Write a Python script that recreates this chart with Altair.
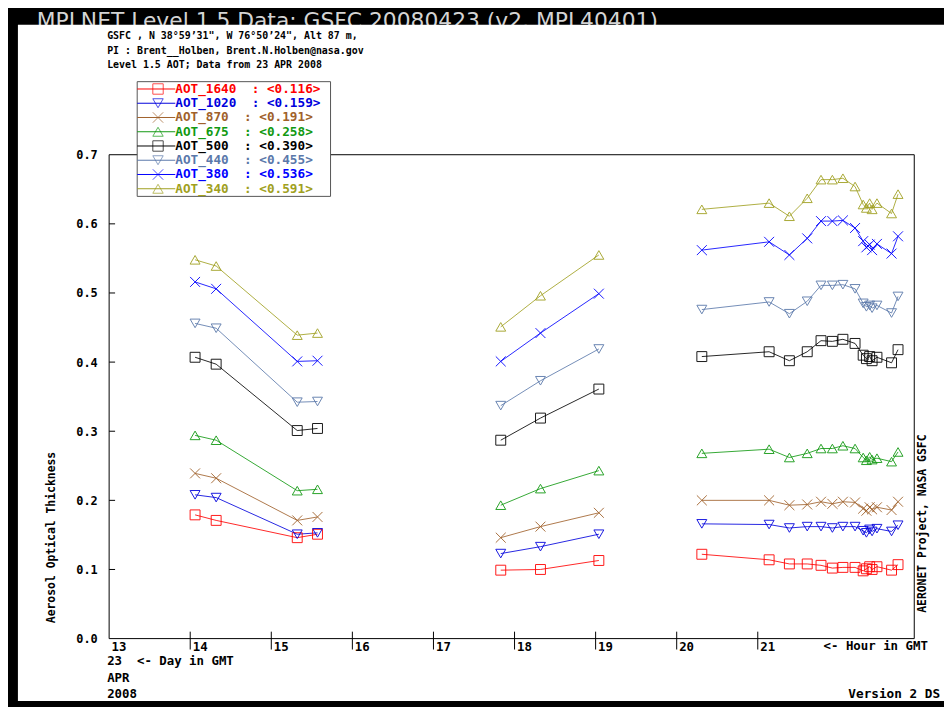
import altair as alt
import pandas as pd

MONO = "DejaVu Sans Mono"
NB = "\u00a0"

# ---------------- data ----------------
series = ["AOT_1640", "AOT_1020", "AOT_870", "AOT_675", "AOT_500", "AOT_440", "AOT_380", "AOT_340"]
colors = ["#ff0000", "#0000dd", "#a0612b", "#119911", "#000000", "#5a78aa", "#0000ff", "#a0a020"]
shapes = ["square", "triangle-down", "M-1,-1L1,1M-1,1L1,-1", "triangle-up",
          "square", "triangle-down", "M-1,-1L1,1M-1,1L1,-1", "triangle-up"]
legend_means = ["0.116", "0.159", "0.191", "0.258", "0.390", "0.455", "0.536", "0.591"]

hours_s1 = [14.06, 14.32, 15.32, 15.57]
hours_s2 = [17.83, 18.32, 19.04]
hours_s3 = [20.31, 21.14, 21.39, 21.61, 21.78, 21.92, 22.05, 22.20,
            22.30, 22.34, 22.38, 22.41, 22.47, 22.65, 22.73]

aot_1640 = [0.179, 0.171, 0.146, 0.151,
            0.099, 0.100, 0.113,
            0.122, 0.114, 0.108, 0.108, 0.106, 0.102, 0.103, 0.103,
            0.098, 0.101, 0.104, 0.100, 0.104, 0.099, 0.107]
aot_1020 = [0.208, 0.204, 0.151, 0.153,
            0.123, 0.133, 0.151,
            0.166, 0.165, 0.160, 0.162, 0.162, 0.160, 0.162, 0.162,
            0.156, 0.153, 0.158, 0.155, 0.159, 0.155, 0.164]
aot_870 = [0.239, 0.232, 0.171, 0.176,
           0.146, 0.162, 0.182,
           0.200, 0.200, 0.193, 0.194, 0.198, 0.195, 0.198, 0.197,
           0.188, 0.185, 0.190, 0.187, 0.190, 0.186, 0.198]
aot_675 = [0.294, 0.287, 0.214, 0.216,
           0.193, 0.217, 0.243,
           0.268, 0.274, 0.262, 0.268, 0.275, 0.275, 0.279, 0.275,
           0.262, 0.258, 0.263, 0.259, 0.261, 0.256, 0.270]
aot_500 = [0.407, 0.397, 0.301, 0.304,
           0.287, 0.319, 0.361,
           0.408, 0.415, 0.402, 0.415, 0.431, 0.430, 0.433, 0.427,
           0.410, 0.405, 0.408, 0.402, 0.407, 0.399, 0.418]
aot_440 = [0.456, 0.449, 0.342, 0.343,
           0.337, 0.373, 0.419,
           0.476, 0.487, 0.470, 0.488, 0.511, 0.511, 0.512, 0.506,
           0.485, 0.480, 0.482, 0.478, 0.482, 0.471, 0.495]
aot_380 = [0.516, 0.506, 0.401, 0.402,
           0.401, 0.442, 0.499,
           0.562, 0.574, 0.555, 0.579, 0.604, 0.604, 0.605, 0.594,
           0.575, 0.566, 0.570, 0.562, 0.571, 0.557, 0.582]
aot_340 = [0.548, 0.539, 0.439, 0.442,
           0.451, 0.496, 0.555,
           0.621, 0.630, 0.611, 0.637, 0.664, 0.664, 0.666, 0.654,
           0.628, 0.623, 0.630, 0.621, 0.630, 0.615, 0.643]

y_ticks = [0.0, 0.1, 0.2, 0.3, 0.4, 0.5, 0.6, 0.7]
x_ticks = [13, 14, 15, 16, 17, 18, 19, 20, 21]

header_text = "MPLNET Level 1.5 Data: GSFC 20080423 (v2, MPL40401)"
title_lines = ["GSFC , N 38\u00b059\u201931\", W 76\u00b050\u201924\", Alt 87 m,",
               "PI : Brent__Holben, Brent.N.Holben@nasa.gov",
               "Level 1.5 AOT; Data from 23 APR 2008"]
y_title = "Aerosol Optical Thickness"
x_title = "<- Hour in GMT"
day_lines = ["23" + NB + NB + "<- Day in GMT", "APR", "2008"]
right_text = "AERONET Project, NASA GSFC"
version_text = "Version 2 DS"

# ---------------- tables ----------------
values_by_series = [aot_1640, aot_1020, aot_870, aot_675, aot_500, aot_440, aot_380, aot_340]
hours = hours_s1 + hours_s2 + hours_s3
segs = [1] * len(hours_s1) + [2] * len(hours_s2) + [3] * len(hours_s3)
rows = []
for s, vals in zip(series, values_by_series):
    for h, v, g in zip(hours, vals, segs):
        rows.append({"series": s, "hour": h, "aot": v, "seg": g})
df = pd.DataFrame(rows)

leg = pd.DataFrame({
    "series": series,
    "row": list(range(len(series))),
    "label": [s + NB + NB + ":" + NB + "<" + m + ">" for s, m in zip(series, legend_means)],
})

one = pd.DataFrame({"k": [0]})

W, H = 812, 488

color_enc = alt.Color("series:N", scale=alt.Scale(domain=series, range=colors), legend=None)
shape_enc = alt.Shape("series:N", scale=alt.Scale(domain=series, range=shapes), legend=None)

x_scale = alt.Scale(domain=[13, 22.93], nice=False, zero=False)
y_scale = alt.Scale(domain=[0, 0.7], nice=False)

x_axis = alt.Axis(values=x_ticks, format="d", title=x_title, titleX=720, titleY=7,
                  titleAlign="left", titleBaseline="middle", titleFont=MONO,
                  titleFontSize=12.5, titleFontWeight="bold", titleColor="black",
                  labelAlign="left", labelBaseline="top", labelPadding=2, labelOffset=2,
                  labelFlush=False, labelOverlap=False, labelFont=MONO, labelFontSize=12.5,
                  labelFontWeight="bold", labelColor="black",
                  ticks=False, tickSize=0, domain=False, grid=False, zindex=1)
y_axis = alt.Axis(values=y_ticks, format=".1f", title=y_title, titleX=-58, titleY=472,
                  titleAngle=270, titleAlign="left", titleBaseline="middle", titleFont=MONO,
                  titleFontSize=11.5, titleFontWeight="bold", titleColor="black",
                  labelPadding=12, labelFlush=False, labelOverlap=False, labelFont=MONO,
                  labelFontSize=12, labelFontWeight="bold", labelColor="black",
                  ticks=False, tickSize=0, domain=False, grid=False, zindex=1)

X = alt.X("hour:Q", scale=x_scale, axis=x_axis)
Y = alt.Y("aot:Q", scale=y_scale, axis=y_axis)


def label(txt, x, y, size, align="left", angle=0, color="black", font=MONO,
          weight="bold", baseline="middle"):
    return alt.Chart(one).mark_text(
        text=txt, align=align, baseline=baseline, angle=angle, font=font,
        fontSize=size, fontWeight=weight, color=color
    ).encode(x=alt.value(x), y=alt.value(y))


header = label(header_text, -73, -128, 22, color="#d4d4d4", font="DejaVu Sans",
               weight="normal", baseline="alphabetic")
panel = alt.Chart(one).mark_rect(color="white").encode(
    x=alt.value(-92), x2=alt.value(850), y=alt.value(-131), y2=alt.value(551))
frame = alt.Chart(one).mark_rect(fillOpacity=0, stroke="black", strokeWidth=1).encode(
    x=alt.value(0), x2=alt.value(W), y=alt.value(0), y2=alt.value(H))

ytick_rules = alt.Chart(pd.DataFrame({"aot": y_ticks[1:-1]})).mark_rule(
    color="black", strokeWidth=1).encode(y=Y, x=alt.value(0), x2=alt.value(6))
xtick_rules = alt.Chart(pd.DataFrame({"hour": x_ticks[1:]})).mark_rule(
    color="black", strokeWidth=1).encode(x=X, y=alt.value(481), y2=alt.value(499))

lines = alt.Chart(df).mark_line(strokeWidth=1, opacity=0.85).encode(
    x=X, y=Y, color=color_enc, detail="seg:N", order="hour:Q")
points = alt.Chart(df).mark_point(filled=False, strokeWidth=1, size=100, opacity=0.9).encode(
    x=X, y=Y, color=color_enc, shape=shape_enc)

texts = [
    label(title_lines[0], -2, -120, 10),
    label(title_lines[1], -2, -105, 10),
    label(title_lines[2], -2, -90, 10),
    label(day_lines[0], -2, 511, 12.5),
    label(day_lines[1], -2, 528, 12.5),
    label(day_lines[2], -2, 544, 12.5),
    label(version_text, 838, 544, 12.8, align="right"),
    label(right_text, 821, 462, 11.5, angle=270),
]

main = alt.layer(header, panel, frame, ytick_rules, xtick_rules, lines, points, *texts)

LY = alt.Y("row:Q", scale=alt.Scale(domain=[0, 7], range=[-66.3, 34.3]), axis=None)
leg_box = alt.Chart(one).mark_rect(fill="white", stroke="#555555", strokeWidth=1).encode(
    x=alt.value(28.3), x2=alt.value(223.3), y=alt.value(-73.7), y2=alt.value(42))
leg_rules = alt.Chart(leg).mark_rule(strokeWidth=1).encode(
    y=LY, x=alt.value(28.3), x2=alt.value(66.7), color=color_enc)
leg_pts = alt.Chart(leg).mark_point(filled=False, strokeWidth=1, size=110).encode(
    y=LY, x=alt.value(49.3), color=color_enc, shape=shape_enc)
leg_text = alt.Chart(leg).mark_text(align="left", baseline="middle", font=MONO,
                                    fontSize=12.8, fontWeight="bold").encode(
    y=LY, x=alt.value(66.7), text="label:N", color=color_enc)
legend = alt.layer(leg_box, leg_rules, leg_pts, leg_text)

chart = alt.layer(main, legend).resolve_scale(y="independent").properties(
    width=W, height=H,
    autosize=alt.AutoSizeParams(type="none"),
    padding={"left": 102, "top": 145, "right": 30, "bottom": 66},
    background="black",
).configure_view(strokeWidth=0)

chart.save("out.html", embed_options={"renderer": "svg", "actions": False})
